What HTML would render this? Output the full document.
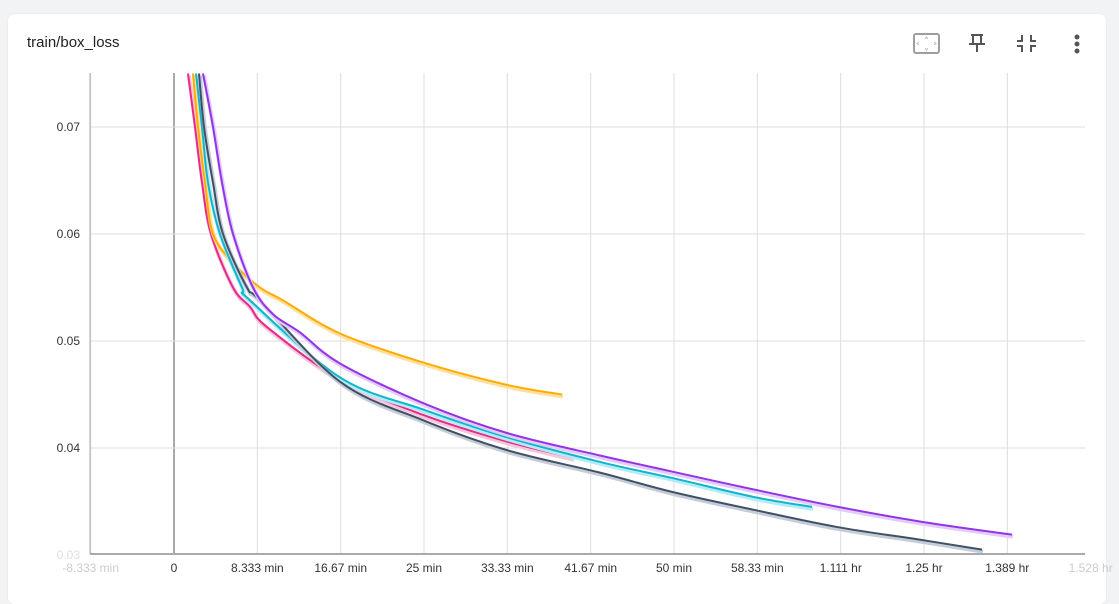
<!DOCTYPE html>
<html><head><meta charset="utf-8"><style>
body{margin:0;width:1119px;height:586px;background:#f1f3f4;font-family:"Liberation Sans",sans-serif;overflow:hidden}
#card{position:absolute;left:8px;top:14px;width:1098px;height:590px;background:#fff;border-radius:6px;box-shadow:0 0 1px #ccc}
#title{position:absolute;left:27px;top:34px;font-size:15px;color:#212121}
svg{position:absolute;left:0;top:0}
</style></head><body>
<div id="card"></div>
<div id="title">train/box_loss</div>
<svg width="1119" height="586" id="chart">
 <g>
  <g><rect x="914" y="34" width="25" height="19" rx="2" fill="none" stroke="#9e9e9e" stroke-width="2"/><path d="M925 39l1.5-2 1.5 2M925 48l1.5 2 1.5-2M919 42l-2 1.5 2 1.5M934 42l2 1.5-2 1.5" fill="none" stroke="#bbb" stroke-width="1"/></g>
  <g><path d="M971 35h12M973 35v9h8v-9M969 44h16M977 44v8" fill="none" stroke="#555" stroke-width="2"/></g>
  <g><path d="M1022 35v6h-5M1031 35v6h5M1022 52v-6h-5M1031 52v-6h5" fill="none" stroke="#555" stroke-width="2"/></g>
  <g fill="#555"><circle cx="1077" cy="37" r="2.5"/><circle cx="1077" cy="44" r="2.5"/><circle cx="1077" cy="51" r="2.5"/></g>
 </g>
 <g id="grid"></g><g id="lines"></g><g id="axes"></g>
</svg>
<script>
const xTicks=[-8.333,0,8.333,16.67,25,33.33,41.67,50,58.33,66.67,75,83.33,91.67];
const xTickLabels=["-8.333 min","0","8.333 min","16.67 min","25 min","33.33 min","41.67 min","50 min","58.33 min","1.111 hr","1.25 hr","1.389 hr","1.528 hr"];
const yTicks=[0.03,0.04,0.05,0.06,0.07];
const yTickLabels=["0.03","0.04","0.05","0.06","0.07"];
const seriesNames=["pink","orange","cyan","dark","purple"];
const seriesColors=["#e7298a","#ffab00","#12b5cb","#425066","#9334e6"];
const shadowColors=["#f7c6dc","#ffe0a0","#b3ecf4","#c5cdd8","#e2cdf9"];
const pinkT=[1.4,2.1,2.8,3.7,5.9,7.6,9.3,16.6,24.9,33.3,39.9];
const pinkV=[0.075,0.07,0.0648,0.06,0.055,0.0532,0.0513,0.0464,0.0431,0.0406,0.0391];
const orangeT=[1.9,2.4,3.1,3.9,6.0,8.6,10.9,16.6,24.9,33.3,38.8];
const orangeV=[0.075,0.07,0.0648,0.06,0.0572,0.055,0.0538,0.0507,0.048,0.0459,0.045];
const cyanT=[2.2,2.8,3.4,4.6,6.8,7.6,16.6,24.9,33.3,42.6,49.8,58.1,63.8];
const cyanV=[0.075,0.07,0.0648,0.06,0.055,0.0538,0.0466,0.0436,0.041,0.0387,0.0372,0.0354,0.0345];
const darkT=[2.5,3.0,3.9,4.9,7.3,8.6,16.6,24.9,33.3,42.6,49.8,58.1,66.4,74.8,80.8];
const darkV=[0.075,0.07,0.0648,0.06,0.055,0.0538,0.0462,0.0426,0.0398,0.0377,0.0359,0.0342,0.0326,0.0314,0.0305];
const purpleT=[2.9,3.9,4.8,5.9,7.9,9.9,12.6,16.6,24.9,33.3,42.6,49.8,58.1,66.4,74.8,83.8];
const purpleV=[0.075,0.07,0.0648,0.06,0.055,0.0525,0.0508,0.0479,0.0442,0.0414,0.0393,0.0378,0.0361,0.0345,0.0331,0.0319];
const allT=[pinkT,orangeT,cyanT,darkT,purpleT], allV=[pinkV,orangeV,cyanV,darkV,purpleV];

const L=90,R=1085,T=73,B=554;
const xs=m=>174+m*10;
const ys=v=>127+(0.07-v)*10700;
const NS="http://www.w3.org/2000/svg";
function mk(tag,attrs,parent){const e=document.createElementNS(NS,tag);for(const k in attrs)e.setAttribute(k,attrs[k]);parent.appendChild(e);return e;}
const grid=document.getElementById('grid'),axes=document.getElementById('axes'),lines=document.getElementById('lines');
const defs=mk('defs',{},document.getElementById('chart'));
const cp=mk('clipPath',{id:'clip'},defs);mk('rect',{x:L,y:T,width:R-L,height:B-T},cp);
lines.setAttribute('clip-path','url(#clip)');
xTicks.forEach((t,i)=>{
  const x=xs(t);
  if(x>=L&&x<=R){const g=mk('line',{x1:x,x2:x,y1:T,y2:B,stroke:t===0?'#aaa':'#ddd','stroke-width':t===0?2:1},grid);
  
  }
  const faint=(i===0||i===xTicks.length-1);
  const tx=mk('text',{x:x,y:572,'text-anchor':'middle','font-size':12,fill:faint?'#ccc':'#333'},axes);
  tx.textContent=xTickLabels[i];
  
  
});
yTicks.forEach((t,i)=>{
  const y=ys(t);
  if(y<B-2){const g=mk('line',{x1:L,x2:R,y1:y,y2:y,stroke:'#ddd'},grid);
  
  }
  const tx=mk('text',{x:80,y:y+4,'text-anchor':'end','font-size':12,fill:i===0?'#ddd':'#333'},axes);
  tx.textContent=yTickLabels[i];
  
  
});
const xa=mk('line',{x1:L,x2:R,y1:B,y2:B,stroke:'#aaa','stroke-width':2},axes);


const ya=mk('line',{x1:L,x2:L,y1:T,y2:B,stroke:'#aaa','stroke-width':1},axes);


function pathD(p){
  let d=`M${p[0][0]},${p[0][1]}`;
  for(let i=0;i<p.length-1;i++){
    const p0=p[i-1]||p[i],p1=p[i],p2=p[i+1],p3=p[i+2]||p2;
    const c1=[p1[0]+(p2[0]-p0[0])/6,p1[1]+(p2[1]-p0[1])/6],c2=[p2[0]-(p3[0]-p1[0])/6,p2[1]-(p3[1]-p1[1])/6];
    d+=` C${c1[0]},${c1[1]} ${c2[0]},${c2[1]} ${p2[0]},${p2[1]}`;
  }
  return d;
}
allT.forEach((ts,s)=>{
  const pts=ts.map((t,i)=>[xs(t),ys(allV[s][i])]);
  const d=pathD(pts);
  const sh=mk('path',{d:d,fill:'none',stroke:shadowColors[s],'stroke-width':4,transform:'translate(1,2)'},lines);
  
  
  const ln=mk('path',{d:d,fill:'none',stroke:seriesColors[s],'stroke-width':2},lines);
  
  
});
</script>
</body></html>
